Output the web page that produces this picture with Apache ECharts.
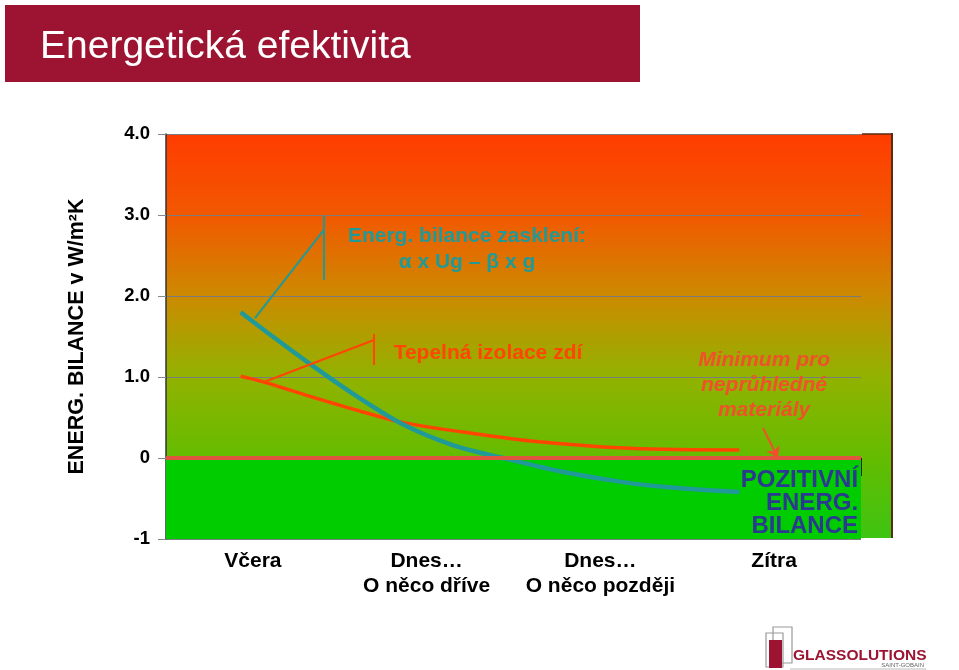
<!DOCTYPE html>
<html>
<head>
<meta charset="utf-8">
<script src="https://cdn.jsdelivr.net/npm/echarts@6/dist/echarts.min.js"></script>
<style>
html,body{margin:0;padding:0;background:#fff;}
#chart{width:959px;height:670px;}
</style>
</head>
<body>
<div id="chart"></div>
<script>
// ---- data ----
const categories = ['Včera', 'Dnes…\nO něco dříve', 'Dnes…\nO něco později', 'Zítra'];
const yTickLabels = ['-1', '0', '1.0', '2.0', '3.0', '4.0'];
// glazing energy balance curve (x in category units 0..4, y in W/m²K)
const glazingX = [0.43, 0.62, 0.83, 1.10, 1.36, 1.65, 1.94, 2.28, 2.67, 3.00, 3.30];
const glazingY = [1.80, 1.49, 1.16, 0.76, 0.42, 0.16, 0.00, -0.17, -0.31, -0.38, -0.42];
// wall insulation curve
const wallX = [0.43, 0.56, 0.80, 1.10, 1.36, 1.71, 2.10, 2.67, 3.30];
const wallY = [1.01, 0.94, 0.78, 0.59, 0.44, 0.32, 0.21, 0.12, 0.10];
// annotation texts
const glazingLabel = 'Energ. bilance zasklení:\nα x Ug – β x g';
const wallLabel = 'Tepelná izolace zdí';
const minimumLabel = 'Minimum pro\nneprůhledné\nmateriály';
const positiveLabel = 'POZITIVNÍ\nENERG.\nBILANCE';
const yName = 'ENERG. BILANCE v W/m²K';
const titleText = 'Energetická efektivita';

// ---- styling ----
const TEAL = '#1F9A98';
const RED = '#FF4500';
const FONT = 'Liberation Sans, Arial, Helvetica, sans-serif';

const chart = echarts.init(document.getElementById('chart'));
const zip = (xs, ys) => xs.map((x, i) => [x, ys[i]]);

const option = {
  animation: false,
  textStyle: { fontFamily: FONT },
  grid: { left: 166, right: 98, top: 134, bottom: 131, containLabel: false },
  xAxis: [
    {
      type: 'category', data: categories, boundaryGap: true,
      axisLine: { show: true, lineStyle: { color: '#888', width: 1 } },
      axisTick: { show: true, length: 18, interval: 0, lineStyle: { color: '#222', width: 1 } },
      axisLabel: { color: '#000', fontSize: 21, fontWeight: 'bold', lineHeight: 25, margin: 10, fontFamily: FONT, interval: 0 },
      splitLine: { show: false }
    },
    { type: 'value', min: 0, max: 4, show: false }
  ],
  yAxis: {
    type: 'value', min: -1, max: 4, interval: 1,
    name: yName, nameLocation: 'middle', nameRotate: 90, nameGap: 78,
    nameTextStyle: { color: '#000', fontSize: 21.5, fontWeight: 'bold', fontFamily: FONT },
    axisLine: { show: true, lineStyle: { color: '#333', width: 1.5 } },
    axisTick: { show: true, length: 8, lineStyle: { color: '#888' } },
    axisLabel: {
      color: '#000', fontSize: 18.5, fontWeight: 'bold', margin: 16, fontFamily: FONT,
      formatter: v => yTickLabels[Math.round(v) + 1]
    },
    splitLine: { show: true, lineStyle: { color: '#7c7c7c', width: 1.2 } }
  },
  graphic: [
    // title band
    { type: 'rect', z: -5, shape: { x: 5, y: 5, width: 635, height: 77 }, style: { fill: '#9C1431' } },
    { type: 'text', z: 10, style: { x: 40, y: 47, text: titleText, fill: '#fff', font: '39px ' + FONT, textVerticalAlign: 'middle' } },
    // gradient background of the plot
    { type: 'rect', z: -10, shape: { x: 166, y: 134, width: 726, height: 404 },
      style: { fill: new echarts.graphic.LinearGradient(0, 0, 0, 1, [
        { offset: 0, color: '#FF3C00' },
        { offset: 0.2, color: '#F25800' },
        { offset: 0.4, color: '#CC8A00' },
        { offset: 0.6, color: '#92B200' },
        { offset: 0.8, color: '#64BC00' },
        { offset: 1, color: '#3EC412' }
      ]) } },
    { type: 'line', z: 5, shape: { x1: 892, y1: 133, x2: 892, y2: 538 }, style: { stroke: '#5A2A12', lineWidth: 2 } },
    { type: 'line', z: 5, shape: { x1: 862, y1: 134, x2: 892, y2: 134 }, style: { stroke: '#5A2A12', lineWidth: 1.5 } },
    // logo
    { type: 'rect', z: 10, shape: { x: 766, y: 633, width: 17, height: 34 }, style: { fill: 'none', stroke: '#9a9a9a', lineWidth: 1.2 } },
    { type: 'rect', z: 10, shape: { x: 773, y: 627, width: 19, height: 36 }, style: { fill: 'none', stroke: '#9a9a9a', lineWidth: 1.2 } },
    { type: 'rect', z: 11, shape: { x: 769, y: 640, width: 13, height: 28 }, style: { fill: '#9C1431' } },
    { type: 'text', z: 11, style: { x: 793, y: 656, text: 'GLASSOLUTIONS', fill: '#9C1431', font: 'bold 15.5px ' + FONT, textVerticalAlign: 'middle' } },
    { type: 'text', z: 11, style: { x: 924, y: 665, text: 'SAINT-GOBAIN', fill: '#666', font: '6px ' + FONT, textAlign: 'right', textVerticalAlign: 'middle' } },
    { type: 'line', z: 10, shape: { x1: 790, y1: 669, x2: 926, y2: 669 }, style: { stroke: '#bbb', lineWidth: 1 } }
  ],
  series: [
    {
      // green positive zone + zero line
      type: 'line', xAxisIndex: 0, data: [], z: 1, silent: true,
      markArea: { silent: true, itemStyle: { color: '#00CC00' }, data: [[{ yAxis: -1 }, { yAxis: 0 }]] },
      markLine: { silent: true, symbol: 'none', label: { show: false },
        lineStyle: { color: '#E0553F', width: 4, type: 'solid' }, data: [{ yAxis: 0 }] }
    },
    {
      name: 'wall', type: 'line', xAxisIndex: 1, z: 3, smooth: 0.35, symbol: 'none',
      lineStyle: { color: RED, width: 3.5 },
      data: zip(wallX, wallY),
      markLine: { silent: true, symbol: 'none', label: { show: false }, lineStyle: { color: RED, width: 2, type: 'solid' },
        data: [
          [{ coord: [0.564, 0.938] }, { coord: [1.197, 1.457] }],
          [{ coord: [1.197, 1.531] }, { coord: [1.197, 1.148] }]
        ] },
      markPoint: { silent: true, symbol: 'circle', symbolSize: 0,
        data: [{ coord: [1.853, 1.296], label: { show: true, position: 'inside', formatter: wallLabel,
          color: RED, fontSize: 21, fontWeight: 'bold', fontFamily: FONT } }] }
    },
    {
      name: 'glazing', type: 'line', xAxisIndex: 1, z: 4, smooth: 0.3, symbol: 'none',
      lineStyle: { color: TEAL, width: 4.5 },
      data: zip(glazingX, glazingY),
      markLine: { silent: true, symbol: 'none', label: { show: false }, lineStyle: { color: TEAL, width: 2, type: 'solid' },
        data: [
          [{ coord: [0.512, 1.728] }, { coord: [0.909, 2.815] }],
          [{ coord: [0.909, 2.988] }, { coord: [0.909, 2.198] }]
        ] },
      markPoint: { silent: true, symbol: 'circle', symbolSize: 0,
        data: [{ coord: [1.732, 2.58], label: { show: true, position: 'inside', formatter: glazingLabel,
          color: TEAL, fontSize: 21, fontWeight: 'bold', lineHeight: 26, fontFamily: FONT, align: 'center' } }] }
    },
    {
      // annotations for the opaque minimum
      type: 'line', xAxisIndex: 1, z: 5, data: [], silent: true,
      markLine: { silent: true, symbol: ['none', 'arrow'], symbolSize: 11, label: { show: false },
        lineStyle: { color: '#F0502A', width: 2, type: 'solid' },
        data: [[{ coord: [3.436, 0.37] }, { coord: [3.522, 0.0] }]] },
      markPoint: { silent: true, symbol: 'circle', symbolSize: 0,
        data: [
          { coord: [3.442, 0.901], label: { show: true, position: 'inside', formatter: minimumLabel,
            color: '#F0502A', fontSize: 21, fontWeight: 'bold', fontStyle: 'italic', lineHeight: 25, fontFamily: FONT, align: 'center' } },
          { coord: [3.983, -0.556], label: { show: true, position: 'left', distance: 0, formatter: positiveLabel,
            color: '#2B3990', fontSize: 24, fontWeight: 'bold', lineHeight: 23, fontFamily: FONT, align: 'right' } }
        ] }
    }
  ]
};
chart.setOption(option);
</script>
</body>
</html>
